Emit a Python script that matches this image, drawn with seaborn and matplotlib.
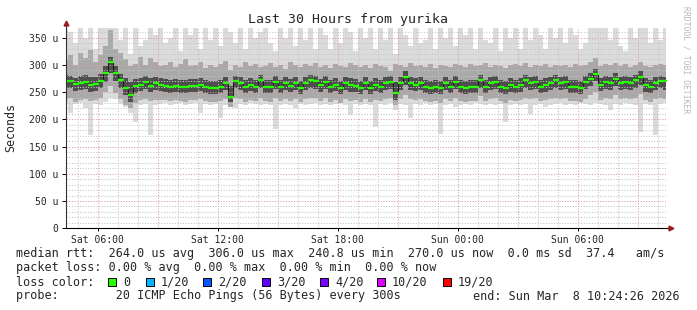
import numpy as np
import matplotlib
matplotlib.use("Agg")
import matplotlib.pyplot as plt
import seaborn as sns
from matplotlib.patches import Rectangle

# ---------------- data ----------------
title = "Last 30 Hours from yurika"
start_hour = 4 + 24 / 60 + 26 / 3600      # Sat 04:24:26, hours after Sat 00:00
end_hour = start_hour + 30
step_hours = 0.25                           # 15-minute samples

median_rtt_us = [
    271, 271, 265, 266, 268, 263, 265, 270, 285, 306,
    285, 272, 258, 245, 262, 264, 268, 262, 267, 264,
    262, 259, 261, 260, 259, 262, 262, 263, 260, 258,
    258, 259, 266, 241, 270, 266, 260, 264, 260, 272,
    260, 260, 268, 260, 266, 262, 266, 257, 266, 272,
    270, 263, 269, 260, 263, 257, 266, 263, 262, 257,
    266, 257, 264, 260, 266, 269, 248, 266, 278, 266,
    263, 266, 260, 257, 260, 257, 266, 260, 269, 260,
    258, 260, 260, 272, 260, 266, 269, 260, 257, 263,
    259, 263, 272, 266, 269, 260, 263, 266, 272, 266,
    269, 260, 260, 257, 269, 275, 284, 263, 269, 266,
    275, 266, 269, 266, 272, 278, 263, 260, 266, 270,
    270,
]

smoke_max_us = [
    375, 360, 340, 375, 350, 375, 330, 375, 375, 375,
    375, 345, 375, 320, 375, 335, 345, 375, 355, 375,
    340, 350, 375, 325, 375, 355, 375, 330, 375, 345,
    375, 335, 375, 360, 340, 375, 330, 375, 350, 360,
    375, 340, 325, 375, 350, 375, 335, 375, 345, 375,
    330, 375, 355, 330, 375, 340, 375, 360, 325, 375,
    350, 375, 330, 375, 345, 375, 320, 375, 355, 335,
    375, 340, 345, 375, 330, 375, 350, 375, 335, 375,
    355, 375, 330, 375, 345, 340, 375, 325, 375, 350,
    375, 330, 375, 345, 375, 355, 330, 375, 350, 375,
    340, 375, 355, 330, 340, 375, 375, 375, 375, 345,
    375, 335, 325, 375, 350, 375, 375, 340, 375, 345,
    375,
]
smoke_hi_us = [
    310, 318, 300, 322, 312, 328, 305, 318, 335, 365,
    330, 322, 310, 298, 302, 315, 300, 312, 305, 298,
    300, 306, 296, 302, 310, 298, 300, 305, 294, 300,
    296, 302, 308, 290, 300, 296, 305, 298, 302, 296,
    298, 304, 296, 300, 292, 306, 300, 296, 302, 298,
    304, 296, 300, 294, 302, 298, 296, 304, 300, 296,
    300, 294, 302, 298, 296, 288, 302, 300, 296, 304,
    298, 300, 296, 302, 294, 300, 298, 296, 302, 300,
    296, 302, 298, 300, 304, 296, 300, 298, 294, 300,
    302, 298, 304, 296, 300, 298, 302, 296, 300, 298,
    300, 296, 302, 298, 300, 306, 312, 298, 302, 300,
    304, 298, 302, 296, 300, 306, 298, 296, 300, 302,
    300,
]
smoke_ihi_us = [
    282, 280, 276, 280, 282, 278, 278, 284, 298, 315,
    298, 284, 276, 268, 274, 276, 280, 276, 278, 276,
    274, 272, 274, 272, 272, 274, 274, 276, 272, 270,
    270, 272, 278, 262, 280, 278, 272, 276, 272, 282,
    272, 272, 280, 272, 278, 274, 278, 270, 278, 282,
    280, 274, 280, 272, 276, 270, 278, 276, 274, 270,
    278, 270, 276, 272, 278, 280, 268, 278, 288, 278,
    276, 278, 272, 270, 272, 270, 278, 272, 280, 272,
    270, 272, 272, 282, 272, 278, 280, 272, 270, 276,
    272, 276, 282, 278, 280, 272, 276, 278, 282, 278,
    280, 272, 272, 270, 280, 286, 292, 276, 280, 278,
    286, 278, 280, 278, 282, 288, 276, 272, 278, 280,
    278,
]
smoke_ilo_us = [
    258, 258, 252, 254, 256, 250, 252, 258, 268, 285,
    270, 258, 244, 232, 248, 252, 256, 250, 254, 252,
    250, 248, 250, 248, 248, 250, 250, 252, 248, 246,
    246, 248, 254, 232, 258, 254, 248, 252, 248, 258,
    248, 248, 256, 248, 254, 250, 254, 246, 254, 258,
    256, 250, 256, 248, 252, 246, 254, 250, 250, 246,
    254, 246, 252, 248, 254, 256, 236, 254, 264, 254,
    252, 254, 248, 246, 248, 246, 254, 248, 256, 248,
    246, 248, 248, 258, 248, 254, 256, 248, 246, 250,
    248, 250, 258, 254, 256, 248, 250, 254, 258, 254,
    256, 248, 248, 246, 256, 262, 270, 252, 256, 254,
    262, 254, 256, 254, 258, 264, 250, 248, 254, 258,
    254,
]
smoke_lo_us = [
    238, 240, 232, 236, 238, 234, 236, 240, 250, 262,
    248, 238, 226, 220, 230, 236, 238, 234, 236, 236,
    236, 234, 236, 234, 232, 236, 236, 238, 234, 232,
    232, 234, 238, 222, 240, 238, 232, 236, 234, 240,
    234, 232, 240, 234, 238, 234, 238, 232, 238, 240,
    240, 234, 240, 232, 236, 230, 238, 234, 236, 232,
    238, 232, 236, 234, 238, 240, 226, 238, 244, 238,
    236, 238, 234, 232, 234, 230, 238, 234, 240, 234,
    232, 234, 234, 242, 234, 238, 240, 234, 230, 236,
    234, 236, 240, 238, 240, 234, 236, 238, 240, 238,
    240, 234, 234, 232, 238, 244, 250, 236, 240, 238,
    244, 238, 240, 238, 240, 246, 236, 232, 238, 240,
    238,
]
smoke_min_us = [
    230, 211, 228, 230, 220, 171, 228, 226, 232, 240,
    238, 228, 222, 212, 196, 226, 228, 171, 226, 228,
    230, 226, 228, 230, 226, 228, 230, 212, 228, 226,
    228, 202, 226, 230, 220, 228, 226, 230, 228, 226,
    228, 226, 183, 226, 228, 226, 220, 228, 226, 228,
    230, 226, 228, 226, 228, 230, 226, 208, 228, 226,
    228, 226, 186, 228, 226, 230, 218, 228, 226, 202,
    228, 226, 230, 226, 228, 174, 226, 228, 222, 226,
    228, 226, 230, 228, 226, 228, 226, 228, 196, 226,
    228, 226, 228, 210, 226, 228, 222, 226, 228, 230,
    226, 228, 226, 230, 228, 226, 230, 228, 226, 218,
    228, 226, 230, 228, 226, 177, 228, 226, 171, 228,
    230,
]

xtick_hours = [6, 12, 18, 24, 30]
xtick_labels = ["Sat 06:00", "Sat 12:00", "Sat 18:00", "Sun 00:00", "Sun 06:00"]
ytick_values = [0, 50, 100, 150, 200, 250, 300, 350]
ytick_labels = ["0", "50 u", "100 u", "150 u", "200 u", "250 u", "300 u", "350 u"]
y_top_us = 368.4

stats_line = "median rtt:  264.0 us avg  306.0 us max  240.8 us min  270.0 us now  0.0 ms sd  37.4   am/s"
loss_line = "packet loss: 0.00 % avg  0.00 % max  0.00 % min  0.00 % now"
loss_color_title = "loss color:"
loss_labels = ["0", "1/20", "2/20", "3/20", "4/20", "10/20", "19/20"]
loss_colors = ["#26ff00", "#00b8ff", "#0059ff", "#5e00ff", "#7e00ff", "#dd00ff", "#ff0000"]
probe_line = "probe:        20 ICMP Echo Pings (56 Bytes) every 300s"
end_line = "end: Sun Mar  8 10:24:26 2026"
credit = "RRDTOOL / TOBI OETIKER"

# ---------------- styling / layout ----------------
sns.set_theme(style="white")
plt.rcParams["font.family"] = ["DejaVu Sans Mono", "DejaVu Sans"]

W, H = 697, 310
fig = plt.figure(figsize=(W / 100, H / 100), dpi=100)
fig.patch.set_facecolor("white")

plot_left, plot_right, plot_top, plot_bottom = 65.8, 665.8, 27.7, 228.2
ax = fig.add_axes([plot_left / W, 1 - plot_bottom / H,
                   (plot_right - plot_left) / W, (plot_bottom - plot_top) / H])
ax.set_facecolor("white")

def fx(px):
    return px / W

def fy(py):
    return 1 - py / H

t = start_hour + step_hours * np.arange(len(median_rtt_us))

# smoke layers
ax.fill_between(t, smoke_min_us, smoke_max_us, step="mid", color="#dbdbdb", lw=0, zorder=1)
ax.fill_between(t, smoke_lo_us, smoke_hi_us, step="mid", color="#a9a9a9", lw=0, zorder=2)
ax.fill_between(t, smoke_ilo_us, smoke_ihi_us, step="mid", color="#4e4e4e", lw=0, zorder=3)

# grid
minor_c, major_c = "#c4c4c4", "#e39a9a"
dot = (0, (1, 1.6))
for v in np.arange(10, y_top_us, 10):
    is_major = (round(v) % 50 == 0)
    ax.axhline(v, color=major_c if is_major else minor_c, lw=0.75, ls=dot, zorder=4)
h = np.ceil(start_hour)
while h < end_hour:
    ax.axvline(h, color=major_c if h % 3 == 0 else minor_c, lw=0.75, ls=dot, zorder=4)
    h += 1

# median
sns.lineplot(x=t, y=median_rtt_us, ax=ax, color="#1e1e1e", lw=0.8,
             drawstyle="steps-mid", zorder=5, legend=False)
ax.plot(t, median_rtt_us, ls="none", marker="_", ms=4.2, mew=1.6,
        color="#26ff00", zorder=6)

ax.set_xlim(start_hour, end_hour)
ax.set_ylim(0, y_top_us)
for s in ax.spines.values():
    s.set_visible(False)
ax.grid(False)

ax.set_yticks(ytick_values)
ax.set_yticklabels(ytick_labels)
ax.set_xticks(xtick_hours)
ax.set_xticklabels(xtick_labels)
ax.tick_params(axis="y", length=3, width=0.7, pad=2.2, labelsize=7, color="black", left=True)
ax.tick_params(axis="x", length=2.5, width=0.7, pad=2.2, labelsize=7, color="black", bottom=True)
ax.set_xlabel("")
ax.set_ylabel("")

# axes with arrows
ax.plot([0, 0], [0, 1.03], transform=ax.transAxes, color="#333333", lw=0.8, clip_on=False, zorder=7)
ax.plot([0, 1.009], [0, 0], transform=ax.transAxes, color="black", lw=0.8, clip_on=False, zorder=7)
ax.plot([0], [1.025], transform=ax.transAxes, marker="^", ms=3.5, color="#9b1c1c", clip_on=False, zorder=8)
ax.plot([1.009], [0], transform=ax.transAxes, marker=">", ms=3.5, color="#9b1c1c", clip_on=False, zorder=8)

# texts
fig.text(fx(347.5), fy(19.5), title, ha="center", va="center", fontsize=9.5)
fig.text(fx(11), fy(127), "Seconds", ha="center", va="center", rotation=90, fontsize=8.4)
fig.text(fx(686), fy(60), credit, ha="center", va="center", rotation=270, fontsize=5.8, color="#b8b8b8")

fs = 8.5
fig.text(fx(16), fy(254), stats_line, ha="left", va="center", fontsize=fs)
fig.text(fx(16), fy(268), loss_line, ha="left", va="center", fontsize=fs)
fig.text(fx(16), fy(282), loss_color_title, ha="left", va="center", fontsize=fs)
box_x_px = [108, 146, 203, 262, 320, 377, 443]
for bx, lab, col in zip(box_x_px, loss_labels, loss_colors):
    fig.patches.append(Rectangle((fx(bx), fy(286)), 8 / W, 8 / H, transform=fig.transFigure,
                                 facecolor=col, edgecolor="black", lw=0.7))
    fig.text(fx(bx + 15), fy(282), lab, ha="left", va="center", fontsize=fs)
fig.text(fx(16), fy(296), probe_line, ha="left", va="center", fontsize=fs)
fig.text(fx(680), fy(296), end_line, ha="right", va="center", fontsize=fs)

fig.savefig("out.png", dpi=100, facecolor="white")
